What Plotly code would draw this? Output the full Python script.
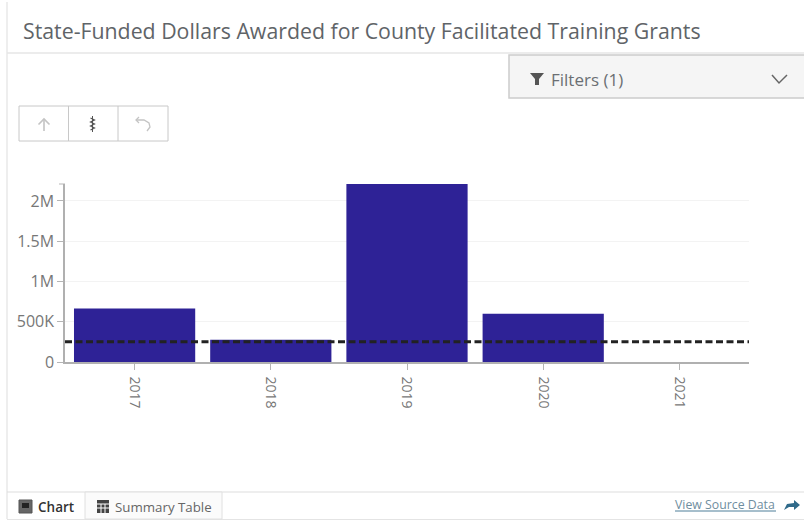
import plotly.graph_objects as go

years = ["2017", "2018", "2019", "2020", "2021"]
dollars = [665000, 275000, 2210000, 600000, 0]
reference_value = 250000
tick_vals = [0, 500000, 1000000, 1500000, 2000000]
tick_text = ["0", "500K", "1M", "1.5M", "2M"]

W, H = 804, 521
FONT = "Open Sans"


def px(x):
    return x / W


def py(y):
    return 1 - y / H


def rect(x0, y0, x1, y1, fill="rgba(0,0,0,0)", line="rgba(0,0,0,0)", lw=1):
    return dict(type="rect", xref="paper", yref="paper", x0=px(x0), x1=px(x1),
                y0=py(y1), y1=py(y0), fillcolor=fill, line=dict(color=line, width=lw), layer="below")


def seg(x0, y0, x1, y1, color, lw=1):
    return dict(type="line", xref="paper", yref="paper", x0=px(x0), x1=px(x1),
                y0=py(y0), y1=py(y1), line=dict(color=color, width=lw), layer="below")


def poly(points, fill="rgba(0,0,0,0)", line="rgba(0,0,0,0)", lw=1, close=True):
    d = "M" + " L".join(f"{px(x):.5f},{py(y):.5f}" for x, y in points) + (" Z" if close else "")
    return dict(type="path", xref="paper", yref="paper", path=d, fillcolor=fill,
                line=dict(color=line, width=lw), layer="above")


def txt(x, y, s, size, color, anchor="left", weight=None):
    return dict(xref="paper", yref="paper", x=px(x), y=py(y), text=s, showarrow=False,
                xanchor=anchor, yanchor="middle", align="left",
                font=dict(family=FONT, size=size, color=color, weight=weight))


shapes = [
    # frame and header
    seg(7, 2, 804, 2, "#e8e8e8", 2),
    seg(7, 2, 7, 519, "#e8e8e8", 1.5),
    seg(7, 53, 804, 53, "#e6e6e6", 1.5),
    # filter panel
    rect(509, 55, 805, 98, "#f5f5f5", "#cccccc", 1.5),
    # toolbar
    rect(19, 106, 168, 141, "#ffffff", "#c8c8c8", 1),
    seg(68.5, 106, 68.5, 141, "#c8c8c8"),
    seg(118, 106, 118, 141, "#c8c8c8"),
    # axis end tick
    seg(59, 184, 65, 184, "#b5b5b5"),
    # footer
    seg(7, 492, 804, 492, "#dddddd"),
    seg(7, 519.5, 804, 519.5, "#e4e4e4"),
    rect(85, 492, 222, 519, "#fbfbfb", "#e0e0e0"),
    # filter icon and chevron
    poly([(530, 73), (544, 73), (539, 79), (539, 85), (535, 85), (535, 79)], "#555555"),
    poly([(772, 75), (779, 83), (787, 75)], line="#666666", lw=1.5, close=False),
    # toolbar icons
    poly([(44, 131), (44, 119)], line="#c4c4c4", lw=1.6, close=False),
    poly([(38.5, 124.5), (44, 119), (49.5, 124.5)], line="#c4c4c4", lw=1.6, close=False),
    poly([(92.5, 116), (92.5, 132)], line="#555555", lw=1, close=False),
    poly([(90.5, 118), (94.5, 120), (90.5, 122), (94.5, 124), (90.5, 126), (94.5, 128), (90.5, 130)],
         line="#555555", lw=1.2, close=False),
    poly([(136, 120), (144, 120), (149, 123), (150, 127), (147, 131)], line="#c4c4c4", lw=1.3, close=False),
    poly([(139, 117), (136, 120), (139, 123)], line="#c4c4c4", lw=1.3, close=False),
    # tab icons
    rect(19, 500, 32, 513, "#666666", "#555555"),
    rect(22, 503, 29, 508, "#222222"),
    rect(97, 500, 109, 513, "#444444"),
    seg(97, 504, 109, 504, "#ffffff"),
    seg(97, 508, 109, 508, "#ffffff"),
    seg(101, 504, 101, 513, "#ffffff"),
    seg(105, 504, 105, 513, "#ffffff"),
    # source link
    seg(675, 511, 776, 511, "#4f7f99"),
    poly([(784, 510), (787, 504), (794, 503), (794, 500), (800, 505), (794, 510), (794, 507), (789, 507)], "#2f6a8a"),
]

annotations = [
    txt(21, 31, "State-Funded Dollars Awarded for County Facilitated Training Grants", 21.3, "#5f6468"),
    txt(549, 79, "Filters (1)", 17, "#6b6f73"),
    txt(36, 507, "Chart", 13.5, "#333333", weight=600),
    txt(113, 507, "Summary Table", 13.3, "#666666"),
    txt(673, 504, "View Source Data", 12.3, "#6f8ea0"),
]

fig = go.Figure(go.Bar(x=list(range(len(years))), y=dollars, width=0.89,
                       marker=dict(color="#2e2296", line=dict(width=0))))

fig.add_hline(y=reference_value, line=dict(color="#222222", width=3, dash="7px,3.5px"), layer="above")

fig.update_layout(
    width=W, height=H, autosize=False,
    margin=dict(l=0, r=0, t=0, b=0, autoexpand=False),
    paper_bgcolor="#ffffff", plot_bgcolor="#ffffff",
    showlegend=False,
    font=dict(family=FONT, color="#777777"),
    shapes=shapes,
    annotations=annotations,
    xaxis=dict(
        domain=[px(65), px(749)],
        range=[-0.511, 4.511],
        automargin=False,
        tickmode="array", tickvals=list(range(len(years))), ticktext=years,
        tickangle=90, tickfont=dict(size=14, color="#777777"),
        ticks="outside", ticklen=6, tickcolor="#b5b5b5", ticklabelstandoff=4,
        showline=True, linecolor="#b0b0b0", linewidth=1.5,
        showgrid=False, zeroline=False,
    ),
    yaxis=dict(
        domain=[py(362), py(184)],
        range=[0, 2210000],
        automargin=False,
        tickmode="array", tickvals=tick_vals, ticktext=tick_text,
        tickfont=dict(size=16, color="#777777"),
        ticks="outside", ticklen=6, tickcolor="#b5b5b5",
        showline=True, linecolor="#b0b0b0", linewidth=1.5,
        showgrid=True, gridcolor="#f3f3f3", gridwidth=1, zeroline=False,
    ),
)

fig.write_html("out.html", default_width=W, default_height=H,
               config=dict(displayModeBar=False, responsive=False),
               post_script="document.body.style.margin='0';document.documentElement.style.overflow='hidden';")
